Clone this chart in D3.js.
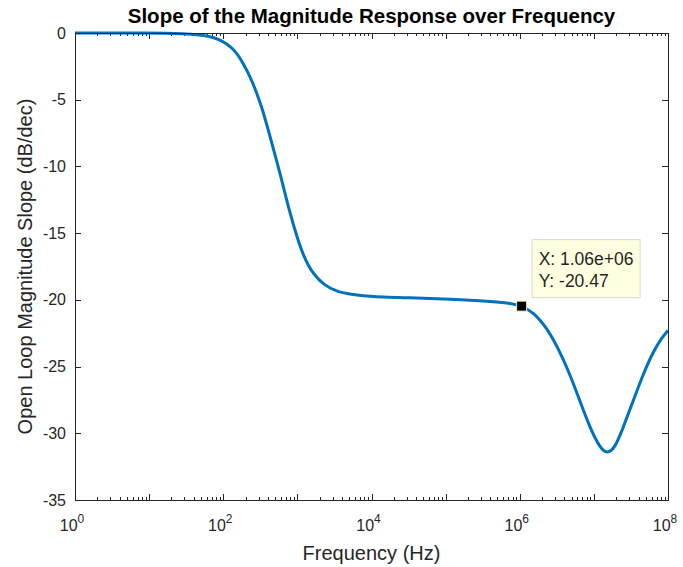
<!DOCTYPE html>
<html>
<head>
<meta charset="utf-8">
<script src="https://cdn.jsdelivr.net/npm/d3@7"></script>
<style>
  body { margin: 0; background: #fff; }
  svg { font-family: "Liberation Sans", Arial, sans-serif; }
</style>
</head>
<body>
<div id="chart"></div>
<script>
// frequency (Hz) and open loop magnitude slope (dB/dec)
let freq = [1, 10.3, 30.5, 48.5, 66.2, 90.4, 135.5, 184.5, 251.8, 333.4, 401.8, 498.9, 639.7,
  794.3, 988.5, 1191, 1397, 1626, 2218, 3428, 5623, 9550, 33040, 114600, 397200, 738000, 1.06e6,
  1.51e6, 2.333e6, 3.49e6, 4.764e6, 6.501e6, 8.872e6, 1.211e7, 1.503e7, 1.928e7, 2.472e7,
  3.373e7, 4.603e7, 6.281e7, 8.299e7, 1e8];
let slope = [0, 0, -0.05, -0.15, -0.25, -0.5, -1.1, -2.2, -3.7, -5.6, -7.2, -9.1, -11.4,
  -13.5, -15.3, -16.6, -17.4, -18.0, -18.85, -19.4, -19.6, -19.75, -19.85, -19.95, -20.1, -20.25, -20.47,
  -20.9, -22.1, -23.9, -25.6, -27.6, -29.6, -31.1, -31.55, -31.1, -29.6,
  -27.6, -25.6, -23.9, -22.8, -22.3];
let yTicks = [0, -5, -10, -15, -20, -25, -30, -35];
let xDecades = [0, 2, 4, 6, 8];
let tipX = 1.06e6, tipY = -20.47;

var svgwidth = 683, svgheight = 567;
var margin = {top: 33, bottom: 67, left: 75, right: 15};
var chartWidth = svgwidth - margin.left - margin.right;
var chartHeight = svgheight - margin.top - margin.bottom;
var axisColor = "#262626";

var svg = d3.select("#chart").append("svg")
  .attr("width", svgwidth)
  .attr("height", svgheight);

var chartgroup = svg.append("g").attr("transform", `translate(${margin.left},${margin.top})`);

var xScale = d3.scaleLog().domain([1, 1e8]).range([0, chartWidth]);
var yScale = d3.scaleLinear().domain([-35, 0]).range([chartHeight, 0]);

// minor ticks 2..9 for each decade
var minor = [];
for (var d = 0; d < 8; d++) for (var m = 2; m <= 9; m++) minor.push(m * Math.pow(10, d));
var allMajor = d3.range(0, 9).map(p => Math.pow(10, p));

// tick marks (inside, on all four sides)
var ticks = chartgroup.append("g").attr("stroke", axisColor).attr("stroke-width", 1);
minor.forEach(function(v) {
  var x = Math.round(xScale(v)) + 0.5;
  ticks.append("line").attr("x1", x).attr("x2", x).attr("y1", chartHeight).attr("y2", chartHeight - 3);
  ticks.append("line").attr("x1", x).attr("x2", x).attr("y1", 0).attr("y2", 3);
});
allMajor.forEach(function(v) {
  var x = Math.round(xScale(v)) + 0.5;
  ticks.append("line").attr("x1", x).attr("x2", x).attr("y1", chartHeight).attr("y2", chartHeight - 6);
  ticks.append("line").attr("x1", x).attr("x2", x).attr("y1", 0).attr("y2", 6);
});
yTicks.forEach(function(v) {
  var y = Math.round(yScale(v)) + 0.5;
  ticks.append("line").attr("x1", 0).attr("x2", 6).attr("y1", y).attr("y2", y);
  ticks.append("line").attr("x1", chartWidth).attr("x2", chartWidth - 6).attr("y1", y).attr("y2", y);
});

// y tick labels
chartgroup.append("g").selectAll("text")
  .data(yTicks).enter().append("text")
  .attr("x", -9)
  .attr("y", d => yScale(d))
  .attr("dy", "0.35em")
  .attr("text-anchor", "end")
  .attr("font-size", "16px")
  .attr("fill", axisColor)
  .text(d => d);

// x tick labels 10^n
var xl = chartgroup.append("g").selectAll("text")
  .data(xDecades).enter().append("text")
  .attr("x", d => xScale(Math.pow(10, d)) - 3)
  .attr("y", chartHeight + 31)
  .attr("text-anchor", "middle")
  .attr("font-size", "16px")
  .attr("fill", axisColor);
xl.append("tspan").text("10");
xl.append("tspan").attr("dy", "-8").attr("font-size", "12px").text(d => d);

// the curve
var line = d3.line()
  .x((d, i) => xScale(freq[i]))
  .y(d => yScale(d))
  .curve(d3.curveBasis);

chartgroup.append("path")
  .datum(slope)
  .attr("fill", "none")
  .attr("stroke", "#0072BD")
  .attr("stroke-width", 3)
  .attr("stroke-linejoin", "round")
  .attr("d", line);

// axes box
chartgroup.append("rect")
  .attr("x", 0.5).attr("y", 0.5)
  .attr("width", chartWidth).attr("height", chartHeight)
  .attr("fill", "none")
  .attr("stroke", axisColor)
  .attr("stroke-width", 1);

// data tip
var mx = xScale(tipX), my = yScale(tipY);
chartgroup.append("rect")
  .attr("x", mx - 5).attr("y", my - 5)
  .attr("width", 10).attr("height", 10)
  .attr("fill", "#000")
  .attr("stroke", "#f0ecc0")
  .attr("stroke-width", 1);

var tip = chartgroup.append("g").attr("transform", `translate(${mx + 10},${my - 67})`);
tip.append("rect")
  .attr("x", 0.5).attr("y", 0.5)
  .attr("width", 108).attr("height", 58)
  .attr("fill", "#ffffe1")
  .attr("stroke", "#d9d9d0");
tip.append("text").attr("x", 7).attr("y", 26)
  .attr("font-size", "17.5px").attr("fill", "#262626")
  .text("X: 1.06e+06");
tip.append("text").attr("x", 7).attr("y", 48)
  .attr("font-size", "17.5px").attr("fill", "#262626")
  .text("Y: -20.47");

// title and axis labels
svg.append("text")
  .attr("x", margin.left + chartWidth / 2)
  .attr("y", 23)
  .attr("text-anchor", "middle")
  .attr("font-size", "20.5px")
  .attr("font-weight", "bold")
  .attr("fill", "#000")
  .text("Slope of the Magnitude Response over Frequency");

svg.append("text")
  .attr("x", margin.left + chartWidth / 2)
  .attr("y", 560)
  .attr("text-anchor", "middle")
  .attr("font-size", "20px")
  .attr("fill", axisColor)
  .text("Frequency (Hz)");

svg.append("text")
  .attr("transform", `translate(32,${margin.top + chartHeight / 2}) rotate(-90)`)
  .attr("text-anchor", "middle")
  .attr("font-size", "20px")
  .attr("fill", axisColor)
  .text("Open Loop Magnitude Slope (dB/dec)");
</script>
</body>
</html>
